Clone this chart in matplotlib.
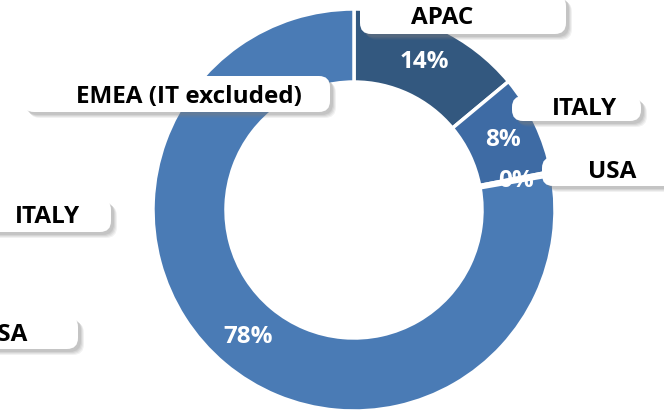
import matplotlib
matplotlib.use("Agg")
import matplotlib.pyplot as plt
from matplotlib.patches import FancyBboxPatch

# data
regions = ["APAC", "ITALY", "USA", "EMEA (IT excluded)"]
shares = [14, 8, 0.3, 78]
colors = ["#33587f", "#3e6ba4", "#4472b0", "#4a7bb5"]

# callout boxes (text, box left/top/right/bottom in px, text centre x/y in px)
callouts = [
    ("APAC", (360, -4, 566, 35), (442, 18)),
    ("ITALY", (512, 97, 641, 122), (584, 109)),
    ("USA", (542, 158, 690, 187), (612, 172)),
    ("EMEA (IT excluded)", (23, 77, 330, 113), (189, 97)),
    ("ITALY", (-30, 200, 111, 233), (47, 217)),
    ("USA", (-60, 317, 78, 350), (3, 335)),
]

FONT = "Open Sans"
FS = 17.5

W, H = 664, 414
fig = plt.figure(figsize=(6.64, 4.14), dpi=100)
ax = fig.add_axes([0, 0, 1, 1])

cx, cy, R, r = 354, 211, 201, 128

wedges, texts, autotexts = ax.pie(
    shares, colors=colors, startangle=90, counterclock=False,
    radius=R, center=(cx, H - cy),
    autopct="%.0f%%", pctdistance=(R + r) / 2 / R,
    wedgeprops=dict(width=R - r, edgecolor="white", linewidth=2.5),
    textprops=dict(color="white", fontsize=FS, fontweight="bold", family=FONT),
)
for t in autotexts:
    t.set_zorder(3)

for label, (x0, y0, x1, y1), (tx, ty) in callouts:
    w, h = x1 - x0, y1 - y0
    # soft shadow
    for k, a in [(6, 0.10), (5, 0.12), (4, 0.15), (3, 0.18)]:
        ax.add_patch(FancyBboxPatch((x0 + k, H - y1 - k), w, h,
                                    boxstyle="round,pad=0,rounding_size=11",
                                    fc="#7f7f7f", ec="none", alpha=a, zorder=4))
    ax.add_patch(FancyBboxPatch((x0, H - y1), w, h,
                                boxstyle="round,pad=0,rounding_size=11",
                                fc="white", ec="none", zorder=5))
    ax.text(tx, H - ty, label, ha="center", va="center", fontsize=FS,
            fontweight="bold", family=FONT, color="black", zorder=6)

ax.set_xlim(0, W)
ax.set_ylim(0, H)
ax.set_aspect("auto")
ax.axis("off")

fig.savefig("out.png", dpi=100)
